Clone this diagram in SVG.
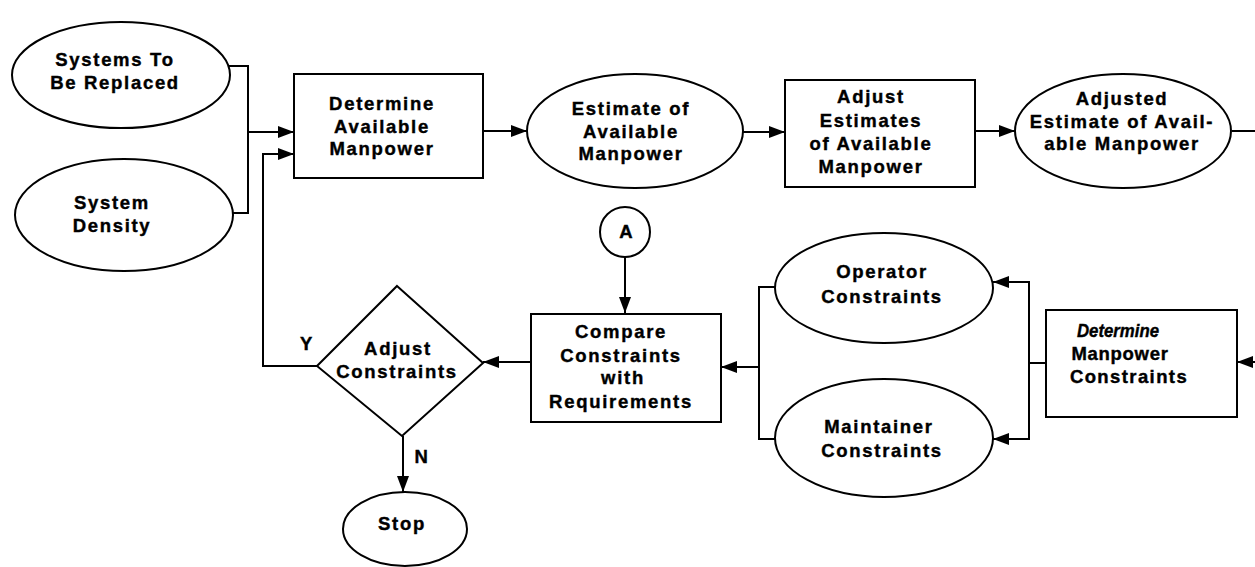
<svg xmlns="http://www.w3.org/2000/svg" width="1255" height="567" viewBox="0 0 1255 567">
  <style>
    .shape { fill: #fff; stroke: #000; stroke-width: 2; }
    .wire { fill: none; stroke: #000; stroke-width: 2; }
    text { font-family: "Liberation Sans", Arial, Helvetica, sans-serif; font-weight: bold; font-size: 18.5px; letter-spacing: 1.7px; fill: #000; stroke: #000; stroke-width: 0.4; text-anchor: middle; }
  </style>
  <defs>
    <marker id="arrow" viewBox="0 0 16 12" refX="16" refY="6" markerWidth="16" markerHeight="12" markerUnits="userSpaceOnUse" orient="auto">
      <path d="M0,0 L16,6 L0,12 Z" fill="#000"/>
    </marker>
  </defs>
  <rect width="1255" height="567" fill="#fff"/>

  <!-- connectors -->
  <g id="connectors">
    <path class="wire" d="M229,66 H248 V213 H233"/>
    <path class="wire" d="M248,132 H294" marker-end="url(#arrow)"/>
    <path class="wire" d="M317,366 H263 V154 H294" marker-end="url(#arrow)"/>
    <path class="wire" d="M483,131 H527" marker-end="url(#arrow)"/>
    <path class="wire" d="M743,132 H785" marker-end="url(#arrow)"/>
    <path class="wire" d="M975,131 H1015" marker-end="url(#arrow)"/>
    <path class="wire" d="M1232,131 H1255"/>
    <path class="wire" d="M1255,362 H1237" marker-end="url(#arrow)"/>
    <path class="wire" d="M1046,363 H1029 V282 H993" marker-end="url(#arrow)"/>
    <path class="wire" d="M1029,363 V439 H993" marker-end="url(#arrow)"/>
    <path class="wire" d="M775,287 H759 V439 H776"/>
    <path class="wire" d="M759,367 H721" marker-end="url(#arrow)"/>
    <path class="wire" d="M531,362 H483" marker-end="url(#arrow)"/>
    <path class="wire" d="M625,257 V313" marker-end="url(#arrow)"/>
    <path class="wire" d="M403,436 V492" marker-end="url(#arrow)"/>
    <text x="307" y="350">Y</text>
    <text x="422" y="463">N</text>
  </g>

  <g id="systems-replaced">
    <ellipse class="shape" cx="121" cy="75" rx="109" ry="53"/>
    <text x="115" y="66">Systems To</text>
    <text x="115" y="89">Be Replaced</text>
  </g>

  <g id="system-density">
    <ellipse class="shape" cx="124" cy="215" rx="109" ry="56"/>
    <text x="112" y="209">System</text>
    <text x="112" y="232">Density</text>
  </g>

  <g id="determine-available">
    <rect class="shape" x="294" y="74" width="189" height="104"/>
    <text x="382" y="110">Determine</text>
    <text x="382" y="133">Available</text>
    <text x="382" y="155">Manpower</text>
  </g>

  <g id="estimate-available">
    <ellipse class="shape" cx="635" cy="131" rx="108" ry="57"/>
    <text x="631" y="115">Estimate of</text>
    <text x="631" y="138">Available</text>
    <text x="631" y="160">Manpower</text>
  </g>

  <g id="adjust-estimates">
    <rect class="shape" x="785" y="80" width="190" height="107"/>
    <text x="871" y="103">Adjust</text>
    <text x="871" y="127">Estimates</text>
    <text x="871" y="150">of Available</text>
    <text x="871" y="173">Manpower</text>
  </g>

  <g id="adjusted-estimate">
    <ellipse class="shape" cx="1123" cy="131" rx="108" ry="57"/>
    <text x="1122" y="105">Adjusted</text>
    <text x="1122" y="128">Estimate of Avail-</text>
    <text x="1122" y="150">able Manpower</text>
  </g>

  <g id="connector-a">
    <circle class="shape" cx="625" cy="232" r="25"/>
    <text x="626" y="238" style="letter-spacing:0">A</text>
  </g>

  <g id="compare-constraints">
    <rect class="shape" x="531" y="314" width="190" height="108"/>
    <text x="621" y="338">Compare</text>
    <text x="621" y="362">Constraints</text>
    <text x="623" y="384">with</text>
    <text x="621" y="408">Requirements</text>
  </g>

  <g id="adjust-constraints">
    <polygon class="shape" points="397,286 483,363 402,436 317,366"/>
    <text x="398" y="355">Adjust</text>
    <text x="397" y="378">Constraints</text>
  </g>

  <g id="stop">
    <ellipse class="shape" cx="405" cy="529" rx="62" ry="37"/>
    <text x="402" y="530">Stop</text>
  </g>

  <g id="operator-constraints">
    <ellipse class="shape" cx="884" cy="288" rx="109" ry="55"/>
    <text x="882" y="278">Operator</text>
    <text x="882" y="303">Constraints</text>
  </g>

  <g id="maintainer-constraints">
    <ellipse class="shape" cx="884" cy="438" rx="109" ry="59"/>
    <text x="879" y="433">Maintainer</text>
    <text x="882" y="457">Constraints</text>
  </g>

  <g id="determine-constraints">
    <rect class="shape" x="1046" y="310" width="191" height="107"/>
    <text x="1118" y="337" style="font-style:italic;letter-spacing:0" textLength="82" lengthAdjust="spacingAndGlyphs">Determine</text>
    <text x="1120" y="360" style="letter-spacing:0.7px">Manpower</text>
    <text x="1129" y="383" style="letter-spacing:1.4px">Constraints</text>
  </g>
</svg>
